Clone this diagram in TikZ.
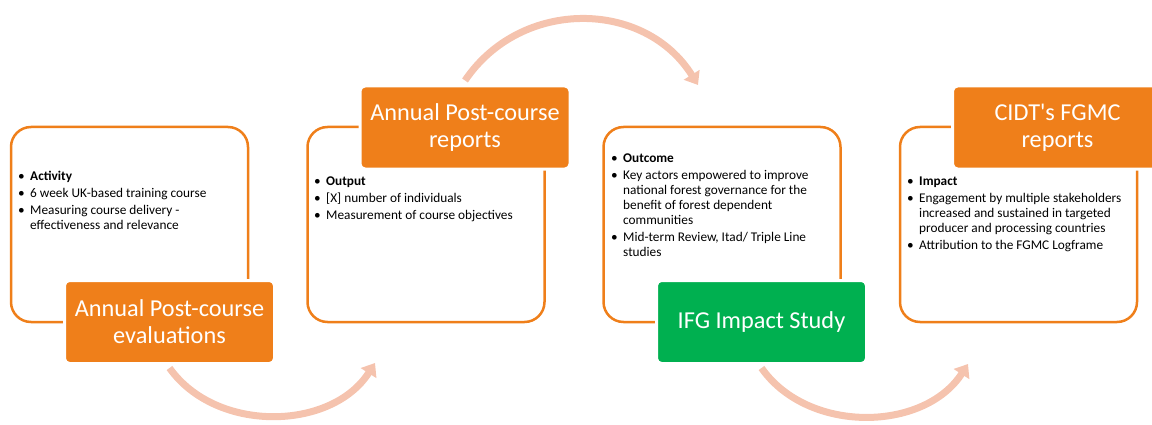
\documentclass[tikz,border=0pt]{standalone}
\usepackage{fontspec}
\setmainfont{Carlito}
\usepackage{tikz}
\usetikzlibrary{arrows.meta,positioning}
\definecolor{cidtorange}{HTML}{EF7F1A}
\definecolor{ifggreen}{HTML}{00B050}
\definecolor{flowpink}{HTML}{F5C3AE}
\newcommand{\itm}{\makebox[12pt][l]{\textbullet}}
\newcommand{\cnt}{\hspace*{12pt}}

\begin{document}
\begin{tikzpicture}[
      x=1pt, y=1pt,
      frame/.style={rectangle,rounded corners=20pt,draw=cidtorange,line width=2.5pt,minimum width=237pt,minimum height=195pt},
      tag/.style={rectangle,rounded corners=5pt,fill=cidtorange,draw=white,line width=3pt,minimum width=210pt,minimum height=83pt,align=center,text=white,font=\fontsize{24.3}{27}\selectfont},
      body/.style={anchor=north west,inner sep=0pt,align=left,font=\fontsize{13.3}{15}\selectfont},
      flow/.style={draw=flowpink,line width=7pt,-{Triangle[width=18pt,length=12pt]}},
      >=Latex
    ]
    \useasboundingbox (0,0) rectangle (1152,424);

    \node[frame] (B1) at (129.5,199.5) {};
    \node[frame] (B2) at (426,199.5) {};
    \node[frame] (B3) at (722,199.5) {};
    \node[frame] (B4) at (1018.5,199.5) {};

    \node[tag] (L1) at (169.5,102) {Annual Post-course\\evaluations};
    \node[tag] (L2) at (465,296.5) {Annual Post-course\\reports};
    \node[tag,fill=ifggreen] (L3) at (761.5,102) {IFG Impact Study};
    \node[tag] (L4) at (1057.5,296.5) {CIDT\textquotesingle s FGMC\\reports};

    \node[body] (T1) at (18,253) {\itm\textbf{Activity}\\[2pt]
      \itm 6 week UK-based training course\\[2pt]
      \itm Measuring course delivery -\\
      \cnt effectiveness and relevance};
    \node[body] (T2) at (314,247) {\itm\textbf{Output}\\[2pt]
      \itm [X] number of individuals\\[2pt]
      \itm Measurement of course objectives};
    \node[body] (T3) at (611,270) {\itm\textbf{Outcome}\\[2pt]
      \itm Key actors empowered to improve\\
      \cnt national forest governance for the\\
      \cnt benefit of forest dependent\\
      \cnt communities\\[2pt]
      \itm Mid-term Review, Itad/ Triple Line\\
      \cnt studies};
    \node[body] (T4) at (907,247) {\itm\textbf{Impact}\\[2pt]
      \itm Engagement by multiple stakeholders\\
      \cnt increased and sustained in targeted\\
      \cnt producer and processing countries\\[2pt]
      \itm Attribution to the FGMC Logframe};

    \coordinate (E1) at (375,61);
    \coordinate (E2) at (698,339);
    \coordinate (E3) at (968,60);

    \draw[flow] ([yshift=-3pt]L1.south) to[bend right=56] (E1);
    \draw[flow] ([yshift=4pt]L2.north) to[bend left=57,looseness=1.1] (E2);
    \draw[flow] ([yshift=-3pt]L3.south) to[bend right=56] (E3);
  \end{tikzpicture}
\end{document}
